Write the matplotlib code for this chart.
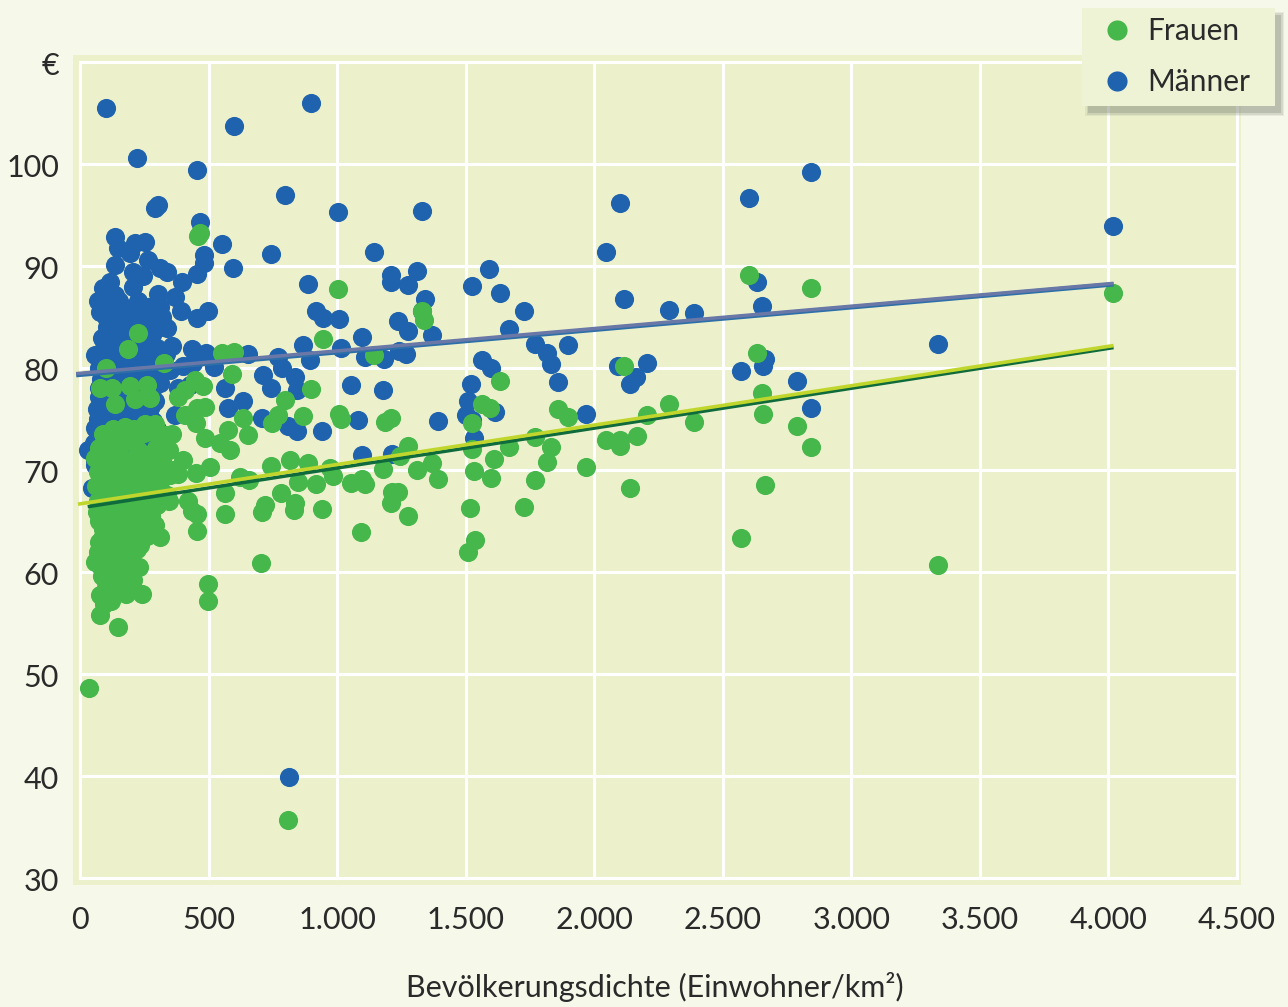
import matplotlib
matplotlib.use("Agg")
import matplotlib.pyplot as plt
from matplotlib.lines import Line2D
from matplotlib.patches import Rectangle
from matplotlib.transforms import ScaledTranslation

plt.rcParams['font.family'] = ['Lato', 'DejaVu Sans']

# Maenner
men_x = [101, 898, 599, 222, 455, 797, 303, 292, 1003, 1330, 467, 2100, 2602, 2843, 4018,
         136, 148, 195, 214, 253, 136, 265, 311, 338, 206, 245, 117, 206, 303, 370, 397,
         455, 482, 482, 552, 595, 743, 887, 918, 945, 1007, 498, 455, 393, 311, 226, 70, 109,
         1097, 1015, 867, 770, 653, 490, 436, 358, 1109, 1183, 1268, 1241, 1237, 1276, 1369,
         1342, 1330, 1311, 1276, 1210, 1210, 1144, 1525, 1591, 1634, 1727, 1669, 1770, 1817,
         1832, 1898, 1859, 1564, 1599, 1521, 1509, 1502, 1525, 1533, 1614, 1968, 1393, 2046,
         2116, 2093, 2140, 2163, 2206, 2291, 2388, 2571, 2634, 2653, 2665, 2657, 2789, 2843,
         3338, 1054, 1179, 1081, 1097, 1214, 941, 844, 809, 708, 712, 743, 786, 836, 844, 895,
         634, 576, 564, 381, 428, 370, 813, 31,
         78, 110, 145, 180, 215, 250, 285, 120, 95, 105, 130, 160, 195, 230, 270, 310, 340,
         85, 115, 150, 190, 225, 260, 300, 60, 95, 125, 165, 205, 240, 285, 335,
         72, 105, 140, 175, 215, 255, 295, 350, 400, 440, 520, 80, 115, 150, 190, 230, 270, 310,
         75, 105, 140, 175, 210, 250, 290, 65, 90, 125, 160, 195, 235, 270,
         60, 85, 115, 155, 190, 225, 265, 300, 55, 80, 110, 145, 180, 220, 260, 310,
         60, 90, 130, 180, 240, 48, 70,
         90, 100, 135, 150, 165, 100, 130, 115, 95, 170, 200, 235, 265, 300, 320, 110, 140, 175, 210, 245,
         280, 90, 120, 150, 185, 220, 255, 290, 100, 130, 165, 200, 235, 270, 75, 100, 130, 165, 200, 240,
         280, 70, 95, 125, 160, 195, 235, 275, 70, 95, 130, 170, 205, 245, 285, 60, 85, 120, 155, 190, 230]
men_y = [105.5, 106, 103.7, 100.6, 99.4, 97, 96, 95.7, 95.3, 95.4, 94.3, 96.2, 96.7, 99.2, 93.9,
         92.8, 91.8, 91.3, 92.3, 92.4, 90.1, 90.6, 89.8, 89.4, 89.4, 89.0, 88.4, 87.9, 87.3, 87.0, 88.4,
         89.2, 91.1, 90.3, 92.2, 89.8, 91.2, 88.2, 85.6, 84.9, 84.8, 85.6, 84.9, 85.6, 86.0, 86.6, 86.6, 87.6,
         83.0, 82.0, 82.3, 81.1, 81.4, 81.5, 81.9, 82.2, 81.1, 80.9, 81.4, 81.7, 84.6, 83.6, 83.2,
         86.8, 85.6, 89.5, 88.1, 88.4, 89.1, 91.4, 88.0, 89.7, 87.4, 85.6, 83.8, 82.4, 81.5,
         80.4, 82.3, 78.6, 80.8, 80.0, 78.4, 76.8, 75.4, 74.9, 73.1, 75.7, 75.5, 74.8, 91.4,
         86.8, 80.2, 78.4, 79.1, 80.5, 85.7, 85.4, 79.7, 88.4, 86.1, 80.9, 80.2, 78.7, 76.1,
         82.4, 78.3, 77.8, 74.9, 71.5, 71.6, 73.8, 73.8, 74.3, 75.1, 79.3, 78.0, 80.0, 79.1, 77.8, 80.8,
         76.8, 76.1, 78.0, 78.0, 78.3, 75.4, 39.9, 72.0,
         85.5, 85.2, 85.6, 85.0, 85.3, 84.8, 85.4, 86.8, 86.0, 84.0, 84.2, 83.8, 84.1, 83.7, 83.5, 84.0, 83.9,
         82.9, 83.0, 82.6, 82.8, 82.5, 82.2, 82.0, 81.3, 81.7, 81.4, 81.1, 81.6, 81.0, 81.2, 81.4,
         80.0, 80.4, 79.9, 80.2, 79.8, 80.3, 80.0, 79.8, 80.2, 80.5, 80.1, 78.9, 78.6, 79.0, 78.7, 78.9, 78.4, 78.5,
         77.2, 77.5, 77.0, 77.3, 76.9, 77.4, 76.8, 76.0, 75.4, 75.8, 75.2, 75.6, 75.0, 75.5,
         74.1, 73.8, 74.4, 73.6, 74.0, 73.5, 73.9, 74.0, 72.6, 71.8, 72.3, 71.9, 72.4, 71.6, 72.1, 71.5,
         70.5, 69.6, 70.1, 69.8, 70.2, 68.2, 68.6,
         87.8, 86.5, 87.2, 86.6, 85.9, 85.0, 85.0, 83.0, 82.0, 84.5, 84.8, 85.5, 86.0, 85.9, 85.0, 84.8, 84.0, 82.2, 83.0, 83.0,
         83.2, 80.5, 80.8, 81.2, 80.9, 80.6, 81.2, 80.7, 79.2, 79.4, 79.0, 79.3, 79.5, 79.6, 78.0, 77.9, 78.0, 78.1, 78.2, 78.3,
         77.8, 75.0, 76.5, 76.7, 76.3, 76.6, 76.2, 76.3, 73.0, 74.8, 75.0, 74.8, 75.0, 74.6, 74.8, 71.0, 72.6, 73.2, 72.6, 73.0, 73.1]

# Frauen
women_x = [35, 148, 78, 809, 498, 498, 241, 704, 455, 311, 233, 230, 292, 564, 455, 436, 564, 420,
           401, 358, 381, 451, 506, 486, 545, 583, 576, 653, 634, 622, 657, 708, 720, 782, 836, 832,
           817, 743, 887, 848, 918, 941, 984, 972, 1054, 1097, 1109, 1093, 1179, 1214, 1237, 1210,
           1276, 1245, 1276, 1311, 1369, 1393, 1517, 1537, 1509, 1533, 1599, 1610, 1525, 1525, 1595,
           1564, 1634, 1669, 1727, 1770, 1770, 1817, 1832, 1859, 1898, 1968, 2046, 2100, 2100, 2167,
           2140, 2206, 2291, 2388, 2571, 2665, 2657, 2653, 2634, 2602, 2843, 2789, 2843, 3338, 4018,
           2116, 1003, 1330, 1338, 945, 1144, 898, 797, 867, 770, 747, 1007, 1015, 1186, 1210, 459,
           467, 552, 599, 591, 478, 226, 187, 327, 101, 78, 124, 195, 261, 214, 272, 136, 447, 486,
           455, 408, 381, 408, 451, 253, 292, 331, 358, 323,
           60, 75, 95, 115, 135, 160, 190, 225, 260, 295, 320, 70, 90, 110, 135, 165, 195, 230, 265, 300,
           62, 85, 110, 140, 170, 205, 240, 275, 310, 70, 95, 125, 155, 190, 225, 260, 300, 345,
           65, 100, 130, 165, 200, 240, 275, 90, 115, 145, 175, 210, 245,
           75, 100, 130, 160, 190, 220, 60, 80, 110, 140, 170, 200,
           85, 115, 145, 175, 205, 78, 100, 130, 160, 180, 95,
           90, 130, 175, 210, 250, 285, 310, 345, 70, 110, 150, 180, 215, 250, 285, 320, 350, 300, 340, 250,
           210, 150, 110, 85, 75, 130, 160, 190, 90, 70, 120, 150, 180, 90, 130, 160, 100, 130, 165, 120,
           100, 210, 250, 280, 315, 280, 240, 200, 160, 120, 255, 260, 225]
women_y = [48.6, 54.6, 55.8, 35.7, 58.8, 57.2, 57.8, 60.9, 64.0, 63.4, 62.6, 60.5, 64.6, 65.7, 65.7, 66.0, 67.7, 67.0,
           71.0, 70.0, 69.6, 69.7, 70.3, 73.1, 72.6, 72.0, 73.9, 73.4, 75.1, 69.3, 69.0, 65.9, 66.6, 67.7, 66.8, 66.1,
           71.0, 70.4, 70.7, 68.8, 68.6, 66.2, 69.4, 70.2, 68.7, 69.1, 68.6, 63.9, 70.1, 67.8, 67.8, 66.8,
           65.5, 71.4, 72.4, 70.0, 70.7, 69.1, 66.3, 63.1, 62.0, 69.9, 69.2, 71.1, 72.1, 74.6, 76.1,
           76.5, 78.7, 72.3, 66.4, 69.0, 73.2, 70.8, 72.3, 76.0, 75.2, 70.3, 72.9, 72.9, 72.4, 73.3,
           68.2, 75.4, 76.5, 74.7, 63.3, 68.5, 75.5, 77.5, 81.5, 89.1, 87.8, 74.3, 72.3, 60.7, 87.4,
           80.2, 87.7, 85.6, 84.7, 82.8, 81.3, 77.9, 76.9, 75.3, 75.4, 74.6, 75.5, 75.0, 74.7, 75.1, 92.9,
           93.2, 81.5, 81.6, 79.4, 78.2, 83.4, 81.9, 80.5, 80.0, 78.0, 78.0, 78.2, 78.3, 77.0, 77.1, 76.5, 78.8, 76.2,
           76.1, 75.4, 77.2, 77.8, 74.6, 74.5, 74.5, 73.4, 73.5, 72.7,
           71.2, 72.2, 70.9, 71.7, 72.6, 73.3, 72.8, 72.0, 71.5, 72.2, 71.0, 69.8, 70.2, 69.4, 70.4, 69.7, 70.6, 69.5, 70.1, 69.8,
           68.4, 68.5, 68.0, 68.8, 67.9, 68.6, 68.1, 68.7, 68.2, 67.0, 66.7, 67.2, 66.5, 67.1, 66.4, 66.9, 66.6, 67.0,
           65.9, 65.4, 65.8, 65.2, 65.6, 65.0, 65.5, 64.2, 64.6, 64.0, 64.4, 63.8, 64.2,
           62.9, 62.4, 63.0, 62.5, 62.9, 62.3, 61.0, 60.5, 61.3, 60.8, 61.2, 60.6,
           59.6, 59.9, 59.4, 59.8, 59.2, 57.7, 58.4, 58.0, 58.5, 57.8, 56.9,
           73.5, 74.0, 74.2, 74.0, 73.6, 73.8, 73.0, 72.0, 71.0, 73.0, 71.5, 71.0, 70.8, 70.5, 70.5, 69.8, 69.5, 68.0, 67.5, 67.5,
           67.5, 67.8, 67.0, 67.2, 65.0, 65.0, 64.0, 63.5, 63.5, 62.0, 62.0, 61.8, 62.0, 61.0, 60.0, 60.3, 59.0, 59.0, 59.0, 57.2,
           57.5, 66.0, 66.2, 66.4, 67.0, 69.0, 69.0, 69.5, 69.0, 69.0, 64.8, 63.5, 62.8]

# trend lines, end points (the dark lines sit under the light ones)
men_line_x = [-15, 4020]
men_line_y = [79.3, 88.2]
men_line_top_y = [79.45, 88.3]
women_line_x = [-8, 4020]
women_line_y = [66.65, 82.2]
women_line2_x = [30, 4020]
women_line2_y = [66.4, 82.0]

xticks = [0, 500, 1000, 1500, 2000, 2500, 3000, 3500, 4000, 4500]
xlabels = ['0', '500', '1.000', '1.500', '2.000', '2.500', '3.000', '3.500', '4.000', '4.500']
yticks = [30, 40, 50, 60, 70, 80, 90, 100, 110]
ylabels = ['30', '40', '50', '60', '70', '80', '90', '100', '€']

W, H = 1288, 1007
fig = plt.figure(figsize=(W / 100, H / 100), dpi=100, facecolor='#f6f8e9')

# green panel behind the axes
fig.patches.append(Rectangle((73 / W, 1 - 885 / H), 1168 / W, 830 / H, transform=fig.transFigure,
                             facecolor='#ecf1cc', edgecolor='none', zorder=-1))

ax = fig.add_axes([80 / W, 1 - 878 / H, 1157 / W, 816 / H])
ax.set_facecolor('none')
ax.set_xlim(0, 4500)
ax.set_ylim(30, 110)
for s in ax.spines.values():
    s.set_visible(False)
ax.set_xticks(xticks)
ax.set_xticklabels(xlabels)
ax.set_yticks(yticks)
ax.set_yticklabels(ylabels)
ax.tick_params(length=0, labelsize=22, labelcolor='#2a2a2a')
ax.tick_params(axis='x', pad=20)
ax.tick_params(axis='y', pad=15)
ax.grid(True, color='white', linewidth=2.2)
ax.set_axisbelow(True)
for line in ax.get_xgridlines() + ax.get_ygridlines():
    line.set_clip_on(False)
for label in ax.get_yticklabels():
    label.set_transform(label.get_transform() + ScaledTranslation(0, -2 / 100, fig.dpi_scale_trans))

ax.scatter(men_x, men_y, s=190, color='#1f62ae', linewidths=0, zorder=3, clip_on=False)
ax.scatter(women_x, women_y, s=190, color='#46b74a', linewidths=0, zorder=4, clip_on=False)

ax.plot(men_line_x, men_line_y, color='#2f6fa8', linewidth=3.2, zorder=5, solid_capstyle='butt', clip_on=False)
ax.plot(men_line_x, men_line_top_y, color='#6a78a8', linewidth=2.5, zorder=6, solid_capstyle='butt', clip_on=False)
ax.plot(women_line2_x, women_line2_y, color='#0f6b3c', linewidth=2.5, zorder=5, solid_capstyle='butt')
ax.plot(women_line_x, women_line_y, color='#c1d62c', linewidth=2.6, zorder=6, solid_capstyle='butt', clip_on=False)

fig.text(655 / W, 1 - 987 / H, 'Bevölkerungsdichte (Einwohner/km²)', ha='center', va='center',
         fontsize=22, color='#2a2a2a')

# legend box, soft shadow from a few stacked rectangles
for grow, alpha in [(3, 0.12), (1.5, 0.18), (0, 0.3)]:
    fig.patches.append(Rectangle(((1088 - grow) / W, 1 - (113 + grow) / H), (193 + 2 * grow) / W, (98 + 2 * grow) / H,
                                 transform=fig.transFigure, facecolor='#7f8677', edgecolor='none',
                                 alpha=alpha, zorder=5))
fig.patches.append(Rectangle((1082 / W, 1 - 106 / H), 193 / W, 98 / H, transform=fig.transFigure,
                             facecolor='#eff3d6', edgecolor='none', zorder=5.5))
handles = [Line2D([], [], linestyle='none', marker='o', markersize=14.5, color='#46b74a', markeredgewidth=0),
           Line2D([], [], linestyle='none', marker='o', markersize=14.5, color='#1f62ae', markeredgewidth=0)]
leg = fig.legend(handles, ['Frauen', 'Männer'], loc='upper left', bbox_to_anchor=(1099 / W, 1 - 17 / H),
                 fontsize=21.5, frameon=False, borderaxespad=0, borderpad=0,
                 labelcolor='#2a2a2a', handlelength=1.2, handletextpad=0.41, labelspacing=0.78)
leg.set_zorder(6)

fig.savefig('out.png', dpi=100, facecolor=fig.get_facecolor())
